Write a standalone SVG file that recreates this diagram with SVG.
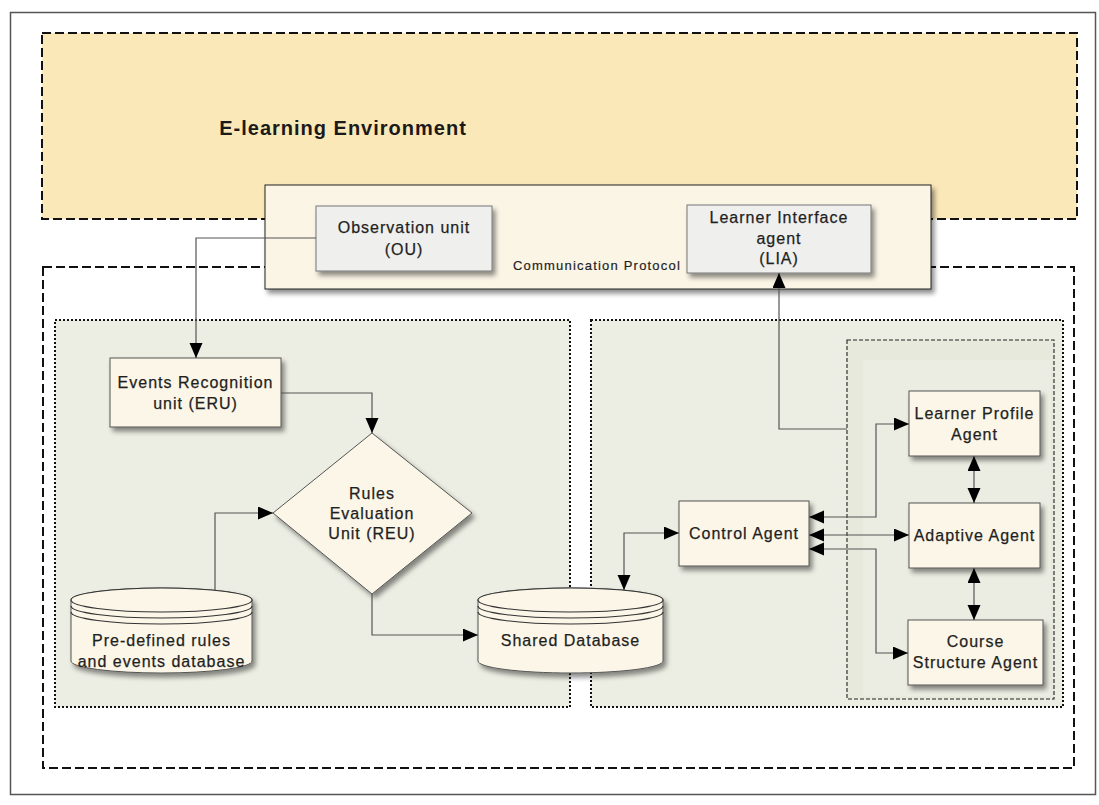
<svg xmlns="http://www.w3.org/2000/svg" width="1099" height="805" viewBox="0 0 1099 805">
<defs>
<style>
text{font-family:"Liberation Sans",Arial,sans-serif;fill:#1f1f1f;}
.t{font-size:16px;letter-spacing:1px;text-anchor:middle;dominant-baseline:central;stroke:#1f1f1f;stroke-width:0.25px;}
.title{font-size:20px;font-weight:bold;letter-spacing:1px;text-anchor:middle;fill:#1a1a1a;}
.proto{font-size:13px;letter-spacing:1.2px;stroke:#1f1f1f;stroke-width:0.2px;}
.zone{stroke:#111;stroke-width:2;stroke-dasharray:9 4;}
.panel{fill:#eceee3;stroke:#111;stroke-width:2;stroke-dasharray:2 2;}
.node{fill:#fbf6e7;stroke:#555;stroke-width:1;}
.gnode{fill:#efefee;stroke:#777;stroke-width:1;}
.conn{fill:none;stroke:#555;stroke-width:1.2;}
.rim{fill:none;stroke:#333;stroke-width:1.2;}
</style>
<filter id="sh" x="-10%" y="-10%" width="130%" height="140%">
<feDropShadow dx="3" dy="4" stdDeviation="2.5" flood-color="#000" flood-opacity="0.45"/>
</filter>
<marker id="ah" markerUnits="userSpaceOnUse" markerWidth="16" markerHeight="14" refX="15" refY="6.5" orient="auto-start-reverse">
<path d="M0,0 L15,6.5 L0,13 z" fill="#000"/>
</marker>
</defs>

<rect x="10.5" y="12.5" width="1085" height="782" fill="#fff" stroke="#555" stroke-width="1.5"/>

<g id="elearning-env">
<rect class="zone" x="42" y="33" width="1035" height="186" fill="#fbe8b8"/>
<text class="title" x="343" y="135">E-learning Environment</text>
</g>

<g id="system-zone">
<rect class="zone" x="43" y="267" width="1031" height="501" fill="none"/>
</g>

<g id="left-panel">
<rect class="panel" x="55" y="320" width="515" height="387"/>
</g>

<g id="right-panel">
<rect class="panel" x="591" y="320" width="472" height="387"/>
<rect x="847" y="340" width="207" height="359" fill="#e6e9dc" stroke="#222" stroke-width="1.1" stroke-dasharray="4 2"/>
<rect x="863" y="360" width="188" height="336" fill="#ebede2"/>
</g>

<g id="comm-protocol">
<rect x="265" y="185" width="666" height="104" fill="#fbf5e6" stroke="#222" stroke-width="1" filter="url(#sh)"/>
<text class="proto" x="513" y="270">Communication Protocol</text>
</g>

<g id="ou">
<rect class="gnode" x="316" y="206" width="176" height="65" filter="url(#sh)"/>
<text class="t" x="404" y="227">Observation unit</text>
<text class="t" x="404" y="249">(OU)</text>
</g>

<g id="lia">
<rect class="gnode" x="687" y="205" width="184" height="68" filter="url(#sh)"/>
<text class="t" x="779" y="217">Learner Interface</text>
<text class="t" x="779" y="238">agent</text>
<text class="t" x="779" y="258">(LIA)</text>
</g>

<g id="eru">
<rect class="node" x="110" y="358" width="171" height="69" filter="url(#sh)"/>
<text class="t" x="195.5" y="382">Events Recognition</text>
<text class="t" x="195.5" y="403">unit (ERU)</text>
</g>

<g id="reu">
<polygon class="node" points="372,433 472,513 372,594 273,513" filter="url(#sh)"/>
<text class="t" x="372" y="493">Rules</text>
<text class="t" x="372" y="513">Evaluation</text>
<text class="t" x="372" y="533">Unit (REU)</text>
</g>

<g id="predefined-db" filter="url(#sh)">
<path class="node" d="M71,600 V661 A90.5,12 0 0 0 252,661 V600 A90.5,12 0 0 0 71,600 Z" stroke="#333"/>
<ellipse cx="161.5" cy="600" rx="90.5" ry="12" fill="#fbf6e7" stroke="#333" stroke-width="1.2"/>
<path class="rim" d="M71,606 A90.5,12 0 0 0 252,606 M71,612 A90.5,12 0 0 0 252,612"/>
</g>
<g id="predefined-db-label">
<text class="t" x="161.5" y="640">Pre-defined rules</text>
<text class="t" x="161.5" y="661">and events database</text>
</g>

<g id="shared-db" filter="url(#sh)">
<path class="node" d="M478,600 V661 A92.5,12 0 0 0 663,661 V600 A92.5,12 0 0 0 478,600 Z" stroke="#333"/>
<ellipse cx="570.5" cy="600" rx="92.5" ry="12" fill="#fbf6e7" stroke="#333" stroke-width="1.2"/>
<path class="rim" d="M478,606 A92.5,12 0 0 0 663,606 M478,612 A92.5,12 0 0 0 663,612"/>
</g>
<g id="shared-db-label">
<text class="t" x="570.5" y="640">Shared Database</text>
</g>

<g id="control-agent">
<rect class="node" x="679" y="501" width="130" height="65" filter="url(#sh)"/>
<text class="t" x="744" y="533">Control Agent</text>
</g>

<g id="learner-profile-agent">
<rect class="node" x="909" y="391" width="131" height="65" filter="url(#sh)"/>
<text class="t" x="974.5" y="413">Learner Profile</text>
<text class="t" x="974.5" y="434">Agent</text>
</g>

<g id="adaptive-agent">
<rect class="node" x="909" y="503" width="131" height="65" filter="url(#sh)"/>
<text class="t" x="974.5" y="535">Adaptive Agent</text>
</g>

<g id="course-structure-agent">
<rect class="node" x="908" y="620" width="135" height="65" filter="url(#sh)"/>
<text class="t" x="975.5" y="641">Course</text>
<text class="t" x="975.5" y="662">Structure Agent</text>
</g>

<g id="connectors">
<path class="conn" d="M316,238 H196 V358" marker-end="url(#ah)"/>
<path class="conn" d="M281,393 H372 V433" marker-end="url(#ah)"/>
<path class="conn" d="M215,590 V513 H273" marker-end="url(#ah)"/>
<path class="conn" d="M372,594 V635 H478" marker-end="url(#ah)"/>
<path class="conn" d="M679,533 H624 V590" marker-start="url(#ah)" marker-end="url(#ah)"/>
<path class="conn" d="M847,429 H779 V273" marker-end="url(#ah)"/>
<path class="conn" d="M809,517 H876 V424 H909" marker-start="url(#ah)" marker-end="url(#ah)"/>
<path class="conn" d="M809,535 H909" marker-start="url(#ah)" marker-end="url(#ah)"/>
<path class="conn" d="M809,549 H876 V653 H908" marker-start="url(#ah)" marker-end="url(#ah)"/>
<path class="conn" d="M974,456 V503" marker-start="url(#ah)" marker-end="url(#ah)"/>
<path class="conn" d="M974,568 V620" marker-start="url(#ah)" marker-end="url(#ah)"/>
</g>
</svg>
